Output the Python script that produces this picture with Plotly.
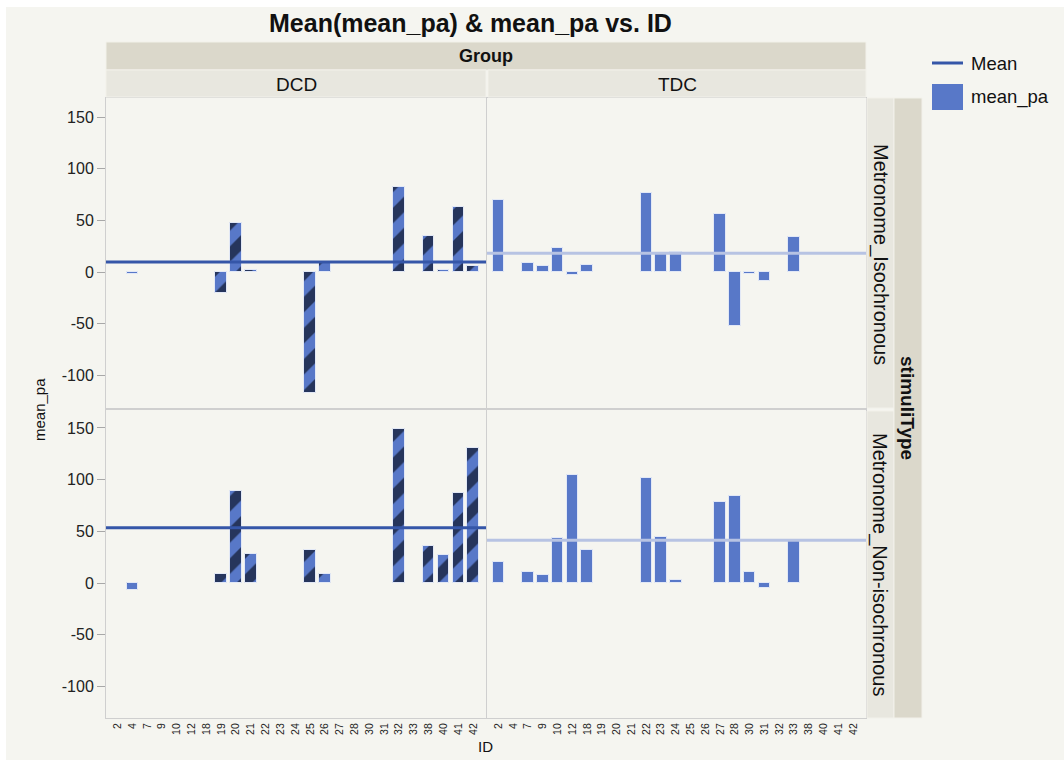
import numpy as np
import plotly.graph_objects as go
from plotly.subplots import make_subplots

# ---- data -------------------------------------------------------------
ids_all = ["2", "4", "7", "9", "10", "12", "18", "19", "20", "21", "22", "23", "24",
           "25", "26", "27", "28", "30", "31", "32", "33", "38", "40", "41", "42"]

dcd_ids = ["4", "19", "20", "21", "25", "26", "32", "38", "40", "41", "42"]
dcd_iso = [-1.5, -20, 47, 2, -117, 9, 82, 35, 1.5, 63, 6]
dcd_non = [-6.5, 8.7, 88.7, 28, 32.3, 8.7, 149, 35.5, 27, 87, 131]

tdc_ids = ["2", "7", "9", "10", "12", "18", "22", "23", "24", "27", "28", "30", "31", "33"]
tdc_iso = [70, 8.7, 5.5, 23, -2.6, 7, 76, 18.8, 19.4, 56.3, -51.8, -1.5, -9, 33.7]
tdc_non = [20.6, 10.6, 8, 43.9, 104.8, 31.6, 101.6, 44.2, 3.2, 78.7, 83.9, 10.3, -4.5, 41.3]

groups = ["DCD", "TDC"]
stimuli = ["Metronome_Isochronous", "Metronome_Non-isochronous"]
y_ticks = [-100, -50, 0, 50, 100, 150]

# ---- styling ----------------------------------------------------------
FONT = "Liberation Sans, Arial, Helvetica, sans-serif"
BAR_BLUE = "#5878c8"
NAVY = "#26355c"
MEAN_DARK = "#3556a8"
MEAN_LIGHT = "#b7c3e3"
PAGE_BG = "#f5f5f0"
STRIP_OUTER = "#dbd8cb"
STRIP_INNER = "#e8e7df"

W, H = 1064, 760
L, R, T, B = 106, 866, 98, 718


def px(x):
    return (x - L) / (R - L)


def py(y):
    return (B - y) / (B - T)


fig = make_subplots(rows=2, cols=2)

panels = [
    (1, 1, dcd_ids, dcd_iso, True, MEAN_DARK),
    (1, 2, tdc_ids, tdc_iso, False, MEAN_LIGHT),
    (2, 1, dcd_ids, dcd_non, True, MEAN_DARK),
    (2, 2, tdc_ids, tdc_non, False, MEAN_LIGHT),
]

for k, (r, c, ids, vals, striped, mcol) in enumerate(panels):
    marker = dict(color=BAR_BLUE, line=dict(color="#e2e8f6", width=1))
    if striped:
        marker["pattern"] = dict(shape="/", fgcolor=NAVY, fgopacity=1,
                                 size=22, solidity=0.5, fillmode="overlay")
    fig.add_trace(go.Bar(x=ids, y=vals, marker=marker, width=0.78,
                         showlegend=False, hovertemplate="ID %{x}: %{y}<extra></extra>"),
                  row=r, col=c)
    suffix = "" if k == 0 else str(k + 1)
    fig.add_shape(type="line", xref=f"x{suffix} domain", yref=f"y{suffix}",
                  x0=0, x1=1, y0=float(np.mean(vals)), y1=float(np.mean(vals)),
                  line=dict(color=mcol, width=3), layer="above")

# ---- axes -------------------------------------------------------------
x_dom = {1: [0, px(486)], 2: [px(487), 1]}
y_dom = {1: [py(408), 1], 2: [0, py(410)]}
y_rng = {1: [-131.6, 168.4], 2: [-130.6, 167.4]}

for r in (1, 2):
    for c in (1, 2):
        fig.update_xaxes(row=r, col=c, domain=x_dom[c], type="category",
                         categoryorder="array", categoryarray=ids_all,
                         range=[-0.78, 24.87], showgrid=False, zeroline=False,
                         showline=True, mirror=True, linecolor="#cfcfcf", linewidth=1,
                         showticklabels=(r == 2), tickangle=-90, ticks="",
                         tickfont=dict(size=10.5, color="#222", family=FONT))
        fig.update_yaxes(row=r, col=c, domain=y_dom[r], range=y_rng[r],
                         tickvals=y_ticks, ticktext=[str(v) for v in y_ticks],
                         showgrid=False, zeroline=False,
                         showline=True, mirror=True, linecolor="#cfcfcf", linewidth=1,
                         showticklabels=(c == 1), ticks="outside" if c == 1 else "",
                         ticklen=8, tickcolor="#a8a8a8",
                         tickfont=dict(size=16, color="#222", family=FONT))

# ---- page background, strips and labels --------------------------------
shapes = []
ann = []


def rect(x0, y0, x1, y1, color, layer="above"):
    shapes.append(dict(type="rect", xref="paper", yref="paper",
                       x0=px(x0), x1=px(x1), y0=py(y1), y1=py(y0),
                       fillcolor=color, line=dict(color="#f2f1ea", width=1), layer=layer))


def text(x, y, s, size, bold=False, angle=0, xanchor="center"):
    ann.append(dict(xref="paper", yref="paper", x=px(x), y=py(y), text=f"<b>{s}</b>" if bold else s,
                    showarrow=False, textangle=angle, xanchor=xanchor, yanchor="middle",
                    font=dict(size=size, color="#111", family=FONT)))


shapes.append(dict(type="rect", xref="paper", yref="paper", x0=px(6), x1=px(W + 5),
                   y0=py(H + 5), y1=py(7), fillcolor=PAGE_BG, line=dict(width=0), layer="below"))

rect(106, 42, 866, 70, STRIP_OUTER)
rect(106, 70, 486, 97, STRIP_INNER)
rect(488, 70, 866, 97, STRIP_INNER)
rect(867, 98, 894, 408, STRIP_INNER)
rect(867, 411, 894, 718, STRIP_INNER)
rect(894, 98, 922, 718, STRIP_OUTER)

text(470, 23, "Mean(mean_pa) &amp; mean_pa vs. ID", 25, bold=True)
text(486, 56, "Group", 18, bold=True)
text(296, 84, groups[0], 19)
text(677, 84, groups[1], 19)
text(880, 254, stimuli[0], 20, angle=90)
text(880, 564, stimuli[1], 20, angle=90)
text(908, 408, "stimuliType", 19, bold=True, angle=90)
text(40, 410, "mean_pa", 15, angle=-90)
text(485, 746, "ID", 15)

# legend
shapes.append(dict(type="line", xref="paper", yref="paper", x0=px(932), x1=px(963),
                   y0=py(63), y1=py(63), line=dict(color=MEAN_DARK, width=3)))
shapes.append(dict(type="rect", xref="paper", yref="paper", x0=px(932), x1=px(963),
                   y0=py(110), y1=py(84), fillcolor=BAR_BLUE, line=dict(width=0)))
text(969, 63, "Mean", 18.5, xanchor="left")
text(969, 97, "mean_pa", 18.5, xanchor="left")

fig.update_layout(
    width=W, height=H,
    margin=dict(l=L, r=W - R, t=T, b=H - B),
    paper_bgcolor="white", plot_bgcolor="white",
    font=dict(family=FONT, color="#111"),
    bargap=0, showlegend=False,
    shapes=list(fig.layout.shapes) + shapes,
    annotations=ann,
)

fig.write_html("out.html")
